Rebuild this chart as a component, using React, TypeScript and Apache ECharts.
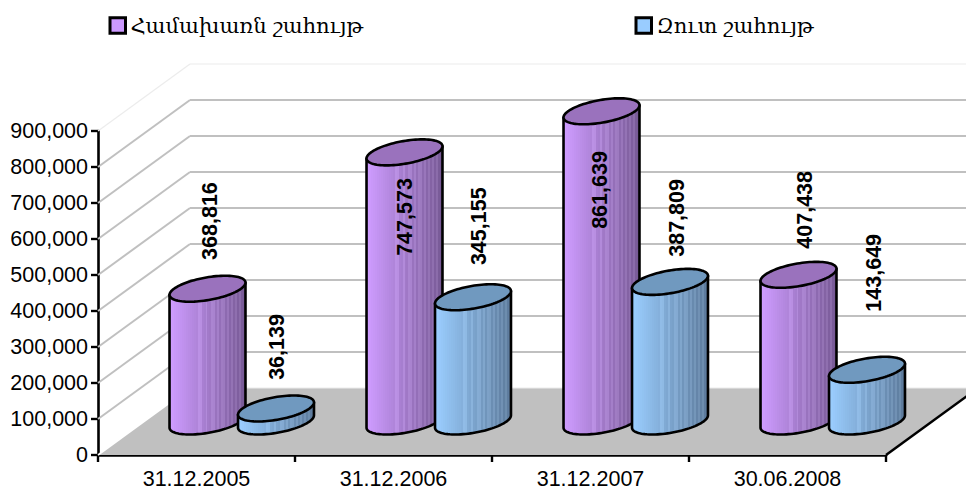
import React, { useEffect, useRef } from "react";
import * as echarts from "echarts";

const categories = ["31.12.2005", "31.12.2006", "31.12.2007", "30.06.2008"];
const grossName = "Համախառն շահույթ";
const netName = "Զուտ շահույթ";
const grossProfit = [368816, 747573, 861639, 407438];
const netProfit = [36139, 345155, 387809, 143649];
const gridValues = [0, 100000, 200000, 300000, 400000, 500000, 600000, 700000, 800000, 900000];

// layout constants (pixels)
const DEPTH_X = 92;
const DEPTH_Y = 67;
const FLOOR_UP = 33.5;
const RX = 33.5;
const DX = 17.9;
const DY = 13;
const grossShift = 11;
const netShift = 79.5;
const grossLabelOffset: [number, number][] = [[2, -67.7], [0, 64.6], [-2, 78.7], [6, -65]];
const netLabelOffset: [number, number][] = [[1, -61.5], [6, -71], [7, -64], [7, -97]];

const FONT = '"Liberation Sans", Arial, sans-serif';
const ARM_FONT = '"DejaVu Serif", serif';

function hex(c: number[]) {
  return "rgb(" + c.map((v) => Math.round(Math.min(255, v))).join(",") + ")";
}

function stripes(light: number[], dark: number[]) {
  const n = 38;
  const bright = new Set([14, 15, 18, 21, 22, 24, 26, 27, 29, 31, 33, 35]);
  const stops: { offset: number; color: string }[] = [];
  for (let i = 0; i < n; i++) {
    const t = i / (n - 1);
    const base = light.map((l, k) => l + (dark[k] - l) * t);
    const col = bright.has(i) ? base.map((v) => v + 14) : base;
    stops.push({ offset: i / n, color: hex(col) });
    stops.push({ offset: (i + 1) / n, color: hex(col) });
  }
  return new echarts.graphic.LinearGradient(0, 0, 1, 0, stops);
}

function ellipsePoint(cx: number, cy: number, t: number): number[] {
  return [cx + RX * Math.cos(t) + DX * Math.sin(t), cy - DY * Math.sin(t)];
}

function cylinderItem(
  shift: number,
  light: number[],
  dark: number[],
  top: string,
  offsets: [number, number][]
) {
  return (params: any, api: any) => {
    const i = api.value(0);
    const v = api.value(1);
    const base = api.coord([i, 0]);
    const head = api.coord([i, v]);
    const cx = base[0] + shift;
    const by = base[1] - FLOOR_UP;
    const ty = head[1] - FLOOR_UP;
    const t0 = Math.atan2(DX, RX);
    const steps = 48;
    const body: number[][] = [];
    body.push(ellipsePoint(cx, ty, t0 + Math.PI));
    for (let k = 0; k <= steps; k++) {
      body.push(ellipsePoint(cx, by, t0 - Math.PI + (Math.PI * k) / steps));
    }
    body.push(ellipsePoint(cx, ty, t0));
    const cap: number[][] = [];
    for (let k = 0; k < steps * 2; k++) {
      cap.push(ellipsePoint(cx, ty, (Math.PI * k) / steps));
    }
    const off = offsets[params.dataIndex];
    return {
      type: "group",
      children: [
        {
          type: "polygon",
          shape: { points: body },
          style: { fill: stripes(light, dark), stroke: "#000", lineWidth: 2.6, lineJoin: "round" },
        },
        {
          type: "polygon",
          shape: { points: cap },
          style: { fill: top, stroke: "#000", lineWidth: 2.6, lineJoin: "round" },
        },
        {
          type: "text",
          x: cx + off[0],
          y: ty + off[1],
          rotation: Math.PI / 2,
          z2: 100,
          style: {
            text: v.toLocaleString("en-US"),
            fill: "#000",
            font: "bold 21.5px " + FONT,
            textAlign: "center",
            textVerticalAlign: "middle",
          },
        },
      ],
    };
  };
}

function wallItem(params: any, api: any) {
  const v = api.value(1);
  const p = api.coord([0, v]);
  const sys = params.coordSys;
  const x0 = sys.x;
  const x1 = sys.x + sys.width;
  const y = p[1];
  const light = v === 900000 || v === 0;
  const stroke = light ? "#ececec" : "#c0c0c0";
  const lw = light ? 1.2 : 2;
  const children: any[] = [];
  if (v === 0) {
    children.push({
      type: "polygon",
      shape: {
        points: [
          [x0, y],
          [x1, y],
          [x1 + DEPTH_X, y - DEPTH_Y],
          [x0 + DEPTH_X, y - DEPTH_Y],
        ],
      },
      style: { fill: "#c0c0c0", stroke: "none" },
    });
    children.push({
      type: "line",
      shape: { x1, y1: y, x2: x1 + DEPTH_X, y2: y - DEPTH_Y },
      style: { stroke: "#000", lineWidth: 2.6 },
    });
  }
  children.push({
    type: "line",
    shape: { x1: x0, y1: y, x2: x0 + DEPTH_X, y2: y - DEPTH_Y },
    style: { stroke: v === 0 ? "#fff" : stroke, lineWidth: v === 0 ? 1.6 : lw },
  });
  children.push({
    type: "line",
    shape: { x1: x0 + DEPTH_X, y1: y - DEPTH_Y, x2: x1 + DEPTH_X, y2: y - DEPTH_Y },
    style: { stroke, lineWidth: lw },
  });
  return { type: "group", children };
}

export default function App() {
  const ref = useRef<HTMLDivElement>(null);
  useEffect(() => {
    document.body.style.margin = "0";
    const chart = echarts.init(ref.current!, undefined, { renderer: "svg" });
    const legendCommon = {
      orient: "horizontal",
      icon: "rect",
      itemWidth: 15.5,
      itemHeight: 15.5,
      itemGap: 0,
      selectedMode: false,
      padding: 0,
      itemStyle: { borderColor: "#000", borderWidth: 3 },
      textStyle: { color: "#000", fontFamily: ARM_FONT, fontSize: 21, padding: [4, 0, 0, 0] },
    };
    chart.setOption({
      animation: false,
      backgroundColor: "#fff",
      grid: { left: 98, right: 80, top: 131, bottom: 33, outerBoundsMode: "none" },
      legend: [
        { ...legendCommon, data: [grossName], left: 108.5, top: 15 },
        { ...legendCommon, data: [netName], left: 634.5, top: 15 },
      ],
      xAxis: {
        type: "category",
        data: categories,
        axisLine: { show: true, lineStyle: { color: "#000", width: 2.6 } },
        axisTick: { show: true, length: 7, alignWithLabel: false, lineStyle: { color: "#000", width: 2.4 } },
        axisLabel: { interval: 0, color: "#000", fontFamily: FONT, fontSize: 21.5, lineHeight: 18, margin: 15 },
      },
      yAxis: {
        type: "value",
        min: 0,
        max: 900000,
        interval: 100000,
        splitLine: { show: false },
        axisLine: { show: true, lineStyle: { color: "#000", width: 2.6 } },
        axisTick: { show: true, length: 7, lineStyle: { color: "#000", width: 2.4 } },
        axisLabel: {
          color: "#000",
          fontFamily: FONT,
          fontSize: 21.5,
          margin: 10,
          padding: [4, 0, 0, 0],
          formatter: (v: number) => v.toLocaleString("en-US"),
        },
      },
      series: [
        {
          type: "custom",
          silent: true,
          z: 1,
          renderItem: wallItem,
          encode: { x: 0, y: 1 },
          data: gridValues.map((v) => [0, v]),
        },
        {
          type: "custom",
          name: grossName,
          z: 2,
          itemStyle: { color: "#CC99FF" },
          renderItem: cylinderItem(grossShift, [206, 156, 255], [120, 90, 150], "#9A72BD", grossLabelOffset),
          encode: { x: 0, y: 1 },
          data: grossProfit.map((v, i) => [i, v]),
        },
        {
          type: "custom",
          name: netName,
          z: 3,
          itemStyle: { color: "#99CCFF" },
          renderItem: cylinderItem(netShift, [155, 206, 255], [92, 122, 155], "#7099BF", netLabelOffset),
          encode: { x: 0, y: 1 },
          data: netProfit.map((v, i) => [i, v]),
        },
      ],
    });
    return () => chart.dispose();
  }, []);
  return <div ref={ref} style={{ position: "absolute", left: 0, top: 0, width: 966, height: 488 }} />;
}
